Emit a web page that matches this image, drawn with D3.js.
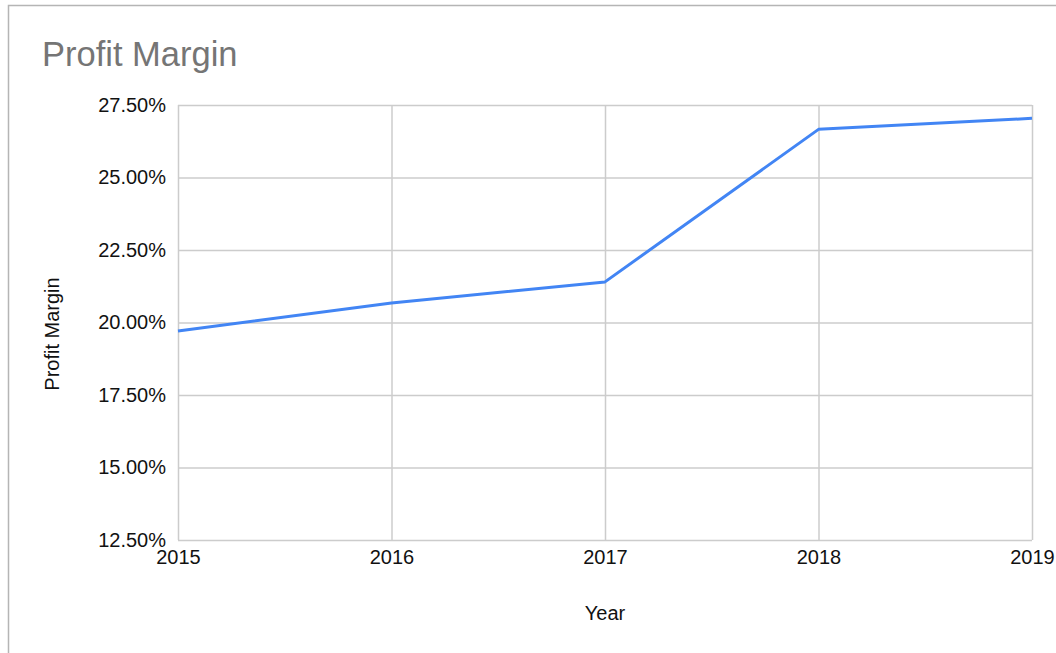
<!DOCTYPE html>
<html><head><meta charset="utf-8">
<script src="https://cdn.jsdelivr.net/npm/d3@7/dist/d3.min.js"></script>
<style>html,body{margin:0;padding:0;background:#fff;}svg{display:block;font-family:"Liberation Sans",Arial,sans-serif;}</style>
</head><body>
<svg id="c" width="1056" height="653"></svg>
<script>
const years = [2015, 2016, 2017, 2018, 2019];
const margins = [19.71, 20.67, 21.40, 26.66, 27.04];
const yTicks = [12.5, 15, 17.5, 20, 22.5, 25, 27.5];

const svg = d3.select("#c");
const W = 1056, H = 653;
const plot = {left: 178, right: 1032, top: 105, bottom: 540};

svg.append("rect").attr("x", 8.5).attr("y", 5.5).attr("width", W + 10).attr("height", H + 10)
  .attr("fill", "#fff").attr("stroke", "#b5b5b5").attr("stroke-width", 1.5);

const x = d3.scaleLinear().domain([2015, 2019]).range([plot.left, plot.right]);
const y = d3.scaleLinear().domain([12.5, 27.5]).range([plot.bottom, plot.top]);

// gridlines
const gy = d3.axisLeft(y).tickValues(yTicks).tickSize(-(plot.right - plot.left)).tickFormat("");
svg.append("g").attr("transform", `translate(${plot.left},0)`).call(gy)
  .call(g => g.select(".domain").remove())
  .call(g => g.selectAll("line").attr("stroke", "#cccccc").attr("stroke-width", 1.5));
const gx = d3.axisBottom(x).tickValues(years).tickSize(-(plot.bottom - plot.top)).tickFormat("");
svg.append("g").attr("transform", `translate(0,${plot.bottom})`).call(gx)
  .call(g => g.select(".domain").remove())
  .call(g => g.selectAll("line").attr("stroke", "#cccccc").attr("stroke-width", 1.5));

// tick labels
const yl = d3.axisLeft(y).tickValues(yTicks).tickSize(0).tickPadding(12).tickFormat(d => d.toFixed(2) + "%");
svg.append("g").attr("transform", `translate(${plot.left},0)`).call(yl)
  .call(g => g.select(".domain").remove())
  .call(g => g.selectAll("text").attr("font-size", 20).attr("fill", "#111").attr("font-family", "Liberation Sans, Arial, sans-serif"));
const xl = d3.axisBottom(x).tickValues(years).tickSize(0).tickPadding(10).tickFormat(d3.format("d"));
svg.append("g").attr("transform", `translate(0,${plot.bottom})`).call(xl)
  .call(g => g.select(".domain").remove())
  .call(g => g.selectAll("text").attr("font-size", 20).attr("fill", "#111").attr("font-family", "Liberation Sans, Arial, sans-serif"));

// line
const line = d3.line().x((d, i) => x(years[i])).y(d => y(d));
svg.append("path").datum(margins).attr("d", line).attr("fill", "none")
  .attr("stroke", "#4285f4").attr("stroke-width", 3).attr("stroke-linejoin", "round");

// titles
svg.append("text").attr("x", 42).attr("y", 66).attr("font-size", 34.5).attr("fill", "#757575").text("Profit Margin");
svg.append("text").attr("transform", `translate(59,334) rotate(-90)`).attr("text-anchor", "middle")
  .attr("font-size", 20).attr("fill", "#111").text("Profit Margin");
svg.append("text").attr("x", 605).attr("y", 620).attr("text-anchor", "middle")
  .attr("font-size", 20).attr("fill", "#111").text("Year");
</script>
</body></html>
